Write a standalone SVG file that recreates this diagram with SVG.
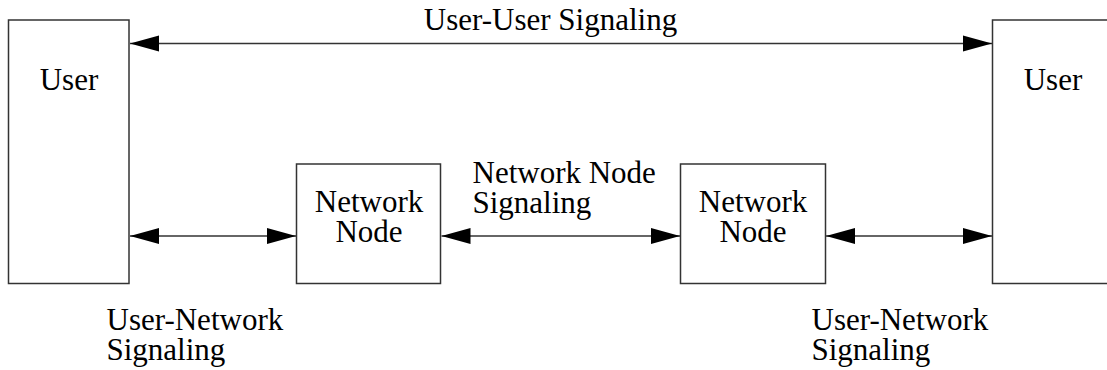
<svg xmlns="http://www.w3.org/2000/svg" width="1107" height="370" viewBox="0 0 1107 370">
<style>
.box{fill:#fff;stroke:#333;stroke-width:1.5}
.conn{stroke:#333;stroke-width:1.5;fill:none}
.t{font-family:'Liberation Serif','Times New Roman',Times,serif;font-size:31px;fill:#000}
.c{text-anchor:middle}
</style>
<defs>
<marker id="ah" markerUnits="userSpaceOnUse" markerWidth="30" markerHeight="17" viewBox="0 0 30 17" refX="29" refY="8.5" orient="auto-start-reverse">
<path d="M0,0.5 L29,8.5 L0,16.5 z" fill="#000"/>
</marker>
</defs>
<g id="user-left">
<rect class="box" x="8.5" y="20" width="120.5" height="263.5"/>
<text class="t c" font-family="Liberation Serif, serif" x="69" y="90">User</text>
</g>
<g id="user-right">
<rect class="box" x="992.5" y="20" width="130" height="263.5"/>
<text class="t c" font-family="Liberation Serif, serif" x="1053" y="90">User</text>
</g>
<g id="network-node-1">
<rect class="box" x="296.5" y="164" width="144" height="119.5"/>
<text class="t c" font-family="Liberation Serif, serif" x="369" y="211.5">Network</text>
<text class="t c" font-family="Liberation Serif, serif" x="369" y="241.5">Node</text>
</g>
<g id="network-node-2">
<rect class="box" x="680.5" y="164" width="145" height="119.5"/>
<text class="t c" font-family="Liberation Serif, serif" x="753" y="211.5">Network</text>
<text class="t c" font-family="Liberation Serif, serif" x="753" y="241.5">Node</text>
</g>
<g id="connectors">
<line class="conn" x1="130" y1="43.5" x2="992" y2="43.5" marker-start="url(#ah)" marker-end="url(#ah)"/>
<line class="conn" x1="130" y1="236" x2="296" y2="236" marker-start="url(#ah)" marker-end="url(#ah)"/>
<line class="conn" x1="441.5" y1="236" x2="680" y2="236" marker-start="url(#ah)" marker-end="url(#ah)"/>
<line class="conn" x1="826" y1="236" x2="992" y2="236" marker-start="url(#ah)" marker-end="url(#ah)"/>
</g>
<g id="labels">
<text class="t c" font-family="Liberation Serif, serif" x="550.5" y="29.5">User-User Signaling</text>
<text class="t" font-family="Liberation Serif, serif" x="472.5" y="182.5">Network Node</text>
<text class="t" font-family="Liberation Serif, serif" x="472.5" y="212.5">Signaling</text>
<text class="t" font-family="Liberation Serif, serif" x="106.5" y="330">User-Network</text>
<text class="t" font-family="Liberation Serif, serif" x="106.5" y="360">Signaling</text>
<text class="t" font-family="Liberation Serif, serif" x="811.5" y="330">User-Network</text>
<text class="t" font-family="Liberation Serif, serif" x="811.5" y="360">Signaling</text>
</g>
</svg>
